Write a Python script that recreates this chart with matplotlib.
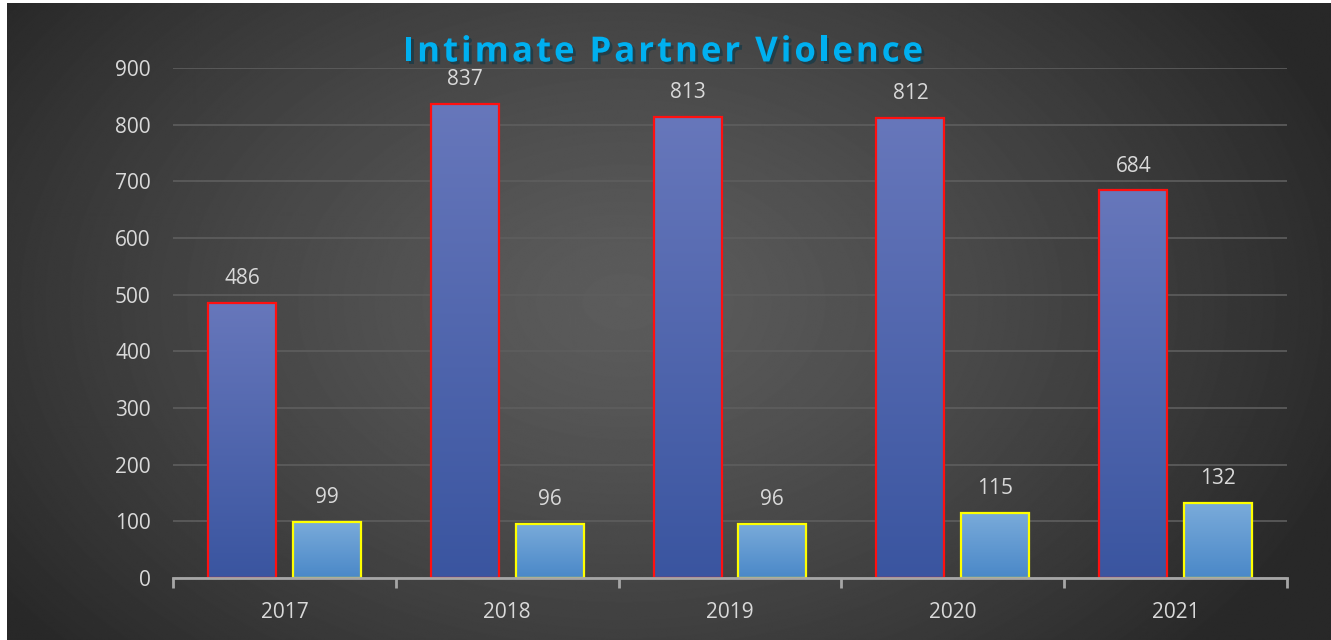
#!/usr/bin/env python3
# -*- coding: utf-8 -*-

import numpy as np
import matplotlib
matplotlib.use("Agg")
import matplotlib.pyplot as plt
import matplotlib.patheffects as pe
from matplotlib.colors import LinearSegmentedColormap

years = ["2017", "2018", "2019", "2020", "2021"]
series_a = [486, 837, 813, 812, 684]
series_b = [99, 96, 96, 115, 132]
title = "Intimate Partner Violence"


def gradient_bars(ax, bars, top_color, bottom_color):
    cmap = LinearSegmentedColormap.from_list("g", [bottom_color, top_color])
    grad = np.linspace(0, 1, 256).reshape(-1, 1)
    for b in bars:
        x0, y0 = b.get_x(), b.get_y()
        w, h = b.get_width(), b.get_height()
        im = ax.imshow(grad, cmap=cmap, origin="lower", aspect="auto",
                       extent=[x0, x0 + w, y0, y0 + h], zorder=2,
                       interpolation="bicubic")
        im.set_clip_path(b)


def spaced_title(fig, text, xc, y, spacing, **kw):
    # matplotlib has no letter spacing, so place each character by hand
    r = fig.canvas.get_renderer()
    fw = fig.bbox.width
    widths = []
    for i in range(len(text) + 1):
        t = fig.text(0, 0, text[:i] + "|", **kw)
        bar = fig.text(0, 0, "|", **kw)
        widths.append(t.get_window_extent(r).width - bar.get_window_extent(r).width)
        t.remove()
        bar.remove()
    total = widths[-1] + spacing * (len(text) - 1)
    start = xc * fw - total / 2
    for i, ch in enumerate(text):
        if ch == " ":
            continue
        fig.text((start + widths[i] + spacing * i) / fw, y, ch, ha="left",
                 va="center",
                 path_effects=[pe.withSimplePatchShadow(offset=(2, -2), alpha=0.5)],
                 **kw)


def main():
    plt.rcParams["font.family"] = ["Open Sans", "DejaVu Sans"]
    fig = plt.figure(figsize=(13.31, 6.4), dpi=100, facecolor="white")

    # dark radial background
    bg = fig.add_axes([7 / 1331, 0, 1 - 7 / 1331, 1 - 3 / 640])
    yy, xx = np.mgrid[0:640, 0:1331]
    r = np.sqrt(((xx - 620) / 760.0) ** 2 + ((yy - 300) / 520.0) ** 2)
    r = np.clip(r, 0, 1)
    c = 0.36 - 0.20 * r ** 1.3
    bg.imshow(c, cmap="gray", vmin=0, vmax=1, aspect="auto")
    bg.axis("off")

    ax = fig.add_axes([173 / 1331, 62 / 640, (1287 - 173) / 1331, (578 - 68) / 640])
    ax.patch.set_alpha(0)

    x = np.arange(len(years))
    w = 0.305
    off = 0.19
    bars_a = ax.bar(x - off, series_a, w, facecolor="none", edgecolor="#ff1010",
                    linewidth=1.6, zorder=3)
    bars_b = ax.bar(x + off, series_b, w, facecolor="none", edgecolor="#ffff00",
                    linewidth=1.6, zorder=3)
    gradient_bars(ax, bars_a, "#6777bb", "#3a55a0")
    gradient_bars(ax, bars_b, "#7aabda", "#4a88c8")

    for bars, vals in ((bars_a, series_a), (bars_b, series_b)):
        for b, v in zip(bars, vals):
            ax.annotate(str(v), (b.get_x() + b.get_width() / 2, v),
                        xytext=(0, 10), textcoords="offset points",
                        ha="center", va="bottom", color="#d9d9d9", fontsize=15)

    ax.set_xlim(-0.5, len(years) - 0.5)
    ax.set_ylim(0, 900)
    ax.set_yticks(range(0, 901, 100))
    ax.yaxis.grid(True, color="#5e5e5e", linewidth=1.2, zorder=0)
    ax.set_axisbelow(True)
    for s in ("top", "right", "left"):
        ax.spines[s].set_visible(False)
    ax.spines["bottom"].set_color("#a6a6a6")
    ax.spines["bottom"].set_linewidth(2)
    ax.spines["bottom"].set_zorder(4)

    ax.set_xticks(x)
    ax.set_xticklabels(years)
    ax.set_xticks(np.arange(-0.5, len(years)), minor=True)
    ax.tick_params(axis="x", which="major", length=0, pad=17,
                   labelcolor="#d9d9d9", labelsize=15)
    ax.tick_params(axis="x", which="minor", length=7, width=2, color="#a6a6a6")
    ax.tick_params(axis="y", length=0, pad=16, labelcolor="#d9d9d9", labelsize=15)

    spaced_title(fig, title, 0.498, 0.918, 3.0, color="#00b0f0",
                 fontsize=25, fontweight="bold")

    fig.savefig("out.png", dpi=100, facecolor=fig.get_facecolor())


if __name__ == "__main__":
    main()
